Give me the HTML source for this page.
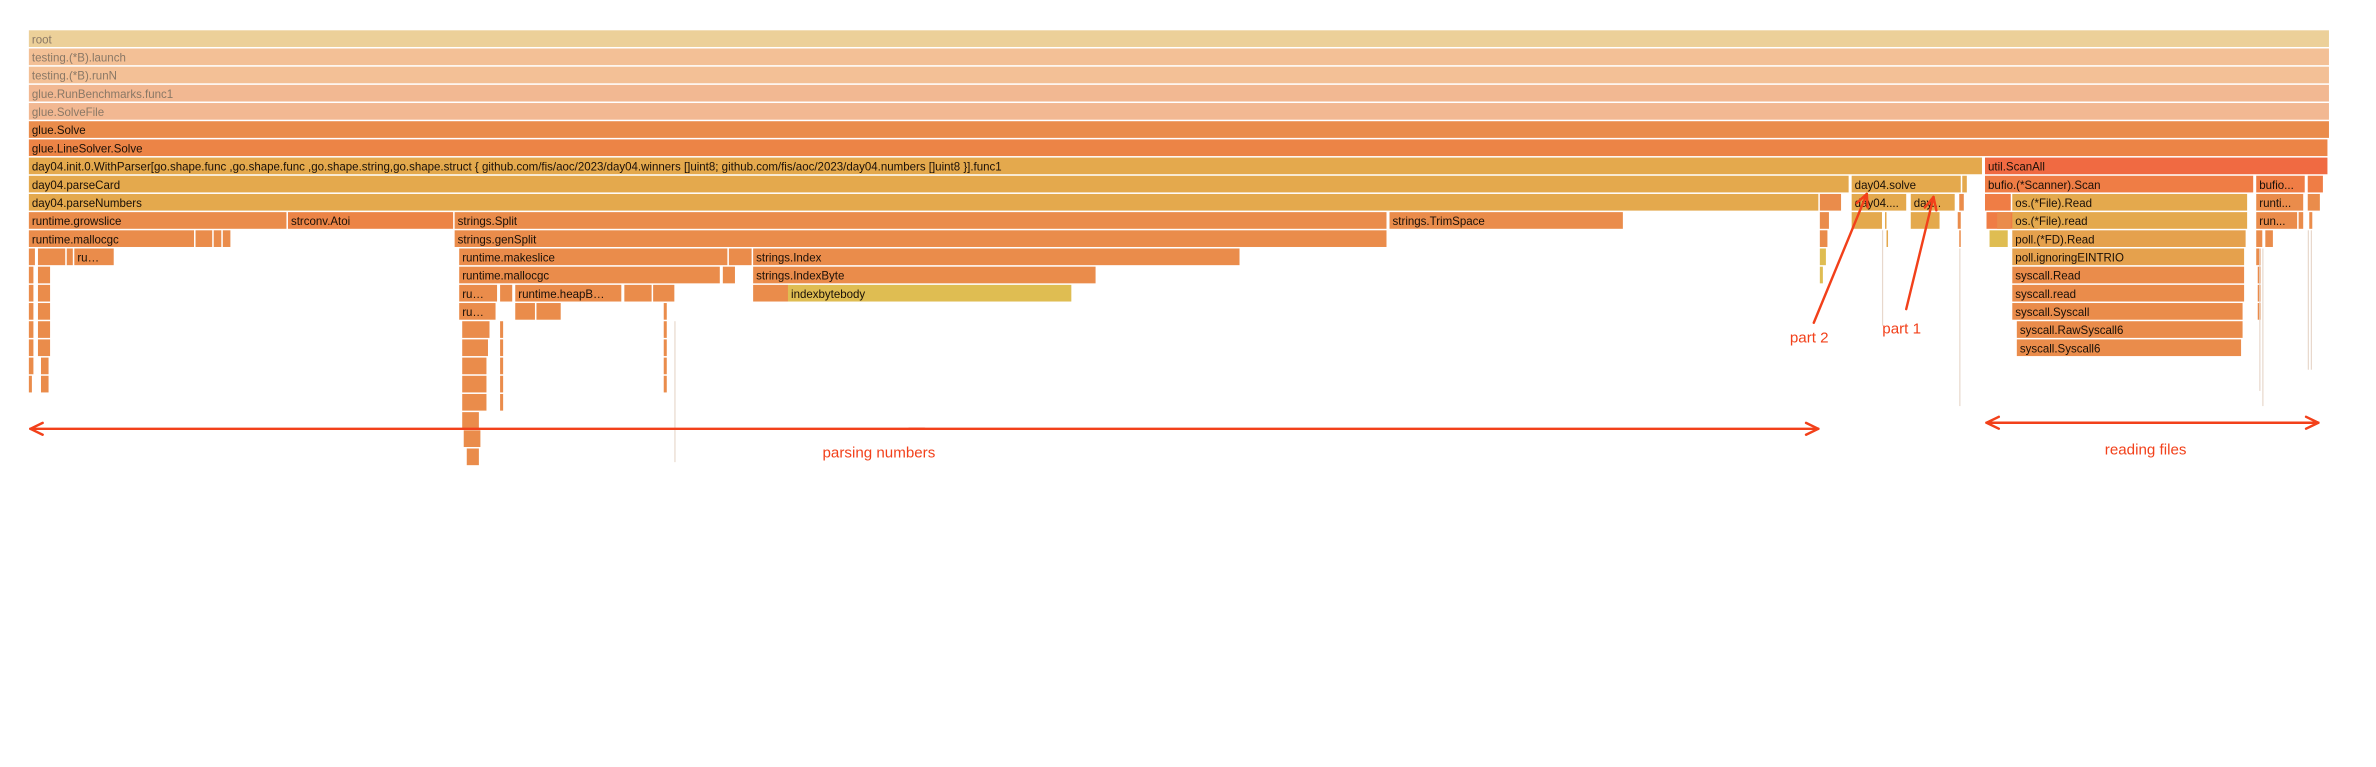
<!DOCTYPE html>
<html><head><meta charset="utf-8">
<style>
html,body{margin:0;padding:0;background:#fff;}
svg{display:block;}
text{font-family:"Liberation Sans",sans-serif;}
</style></head>
<body>
<svg id="chart" width="2376" height="767" viewBox="0 0 1568 506.2" xmlns="http://www.w3.org/2000/svg">
<g id="frames"></g>
<g id="annot"></g>
</svg>
<script>
// flame graph data: depth, start sample, end sample, label, color key
const frameDepths = [0,1,2,3,4,5,6,7,7,8,8,8,8,8,8,9,9,9,9,9,9,9,9,9,
10,10,10,10,10,10,10,10,10,10,10,10,10,10,10,
11,11,11,11,11,11,11,11,11,11,11,11,
12,12,12,12,12,12,12,12,12,12,
13,13,13,13,13,13,13,13,
14,14,14,14,14,14,14,14,14,14,14,
15,15,15,15,15,15,15,15,
16,16,16,16,16,16,
17,17,17,17,17,17,
18,18,18,18,18,
19,19,19,19,19,
20,20,21,22,23];
const frameStarts = [0,0,0,0,0,0,0,0,1291,0,1203,1276,1291,1470,1504,0,1182,1203,1242,1274,1291,1309,1470,1504,
0,171,281,898,1182,1203,1225,1242,1273,1292,1299,1309,1470,1498,1505,
0,110,122,128,281,1182,1226,1274,1294,1309,1470,1476,
0,6,25,30,284,462,478,1182,1309,1470,
0,6,284,458,478,1309,1471,1182,
0,6,284,311,321,393,412,478,501,1309,1471,
0,6,284,321,335,419,1309,1471,
0,6,286,311,419,1312,
0,6,286,311,419,1312,
0,8,286,311,419,
0,8,286,311,419,
286,311,286,287,289];
const frameEnds = [1518,1518,1518,1518,1518,1518,1517,1289,1517,1201,1275,1279,1468,1502,1514,1181,1196,1239,1271,1277,1308,1464,1501,1512,
170,280,896,1052,1188,1223,1226,1261,1275,1326,1308,1464,1497,1501,1507,
109,121,127,133,896,1187,1227,1275,1306,1463,1474,1481,
4,24,29,56,461,477,799,1186,1462,1473,
3,14,456,466,704,1462,1473,1184,
3,14,309,319,391,411,426,501,688,1462,1473,
3,14,308,334,351,421,1461,1473,
3,14,304,313,421,1461,
3,14,303,313,421,1460,
3,13,302,313,421,
2,13,302,313,421,
302,313,297,298,297];
const frameNames = ["root","testing.(*B).launch","testing.(*B).runN","glue.RunBenchmarks.func1","glue.SolveFile","glue.Solve","glue.LineSolver.Solve",
"day04.init.0.WithParser[go.shape.func ,go.shape.func ,go.shape.string,go.shape.struct { github.com/fis/aoc/2023/day04.winners []uint8; github.com/fis/aoc/2023/day04.numbers []uint8 }].func1","util.ScanAll",
"day04.parseCard","day04.solve","","bufio.(*Scanner).Scan","bufio...","",
"day04.parseNumbers","","day04....","day...","","","os.(*File).Read","runti...","",
"runtime.growslice","strconv.Atoi","strings.Split","strings.TrimSpace","","","","","","","","os.(*File).read","run...","","",
"runtime.mallocgc","","","","strings.genSplit","","","","","poll.(*FD).Read","","",
"","","","ru…","runtime.makeslice","","strings.Index","","poll.ignoringEINTRIO","",
"","","runtime.mallocgc","","strings.IndexByte","syscall.Read","","",
"","","ru…","","runtime.heapB…","","","","indexbytebody","syscall.read","",
"","","ru…","","","","syscall.Syscall","",
"","","","","","syscall.RawSyscall6",
"","","","","","syscall.Syscall6",
"","","","","",
"","","","","",
"","","","",""];
const frameColors = ["r","t","t","g","g","o","O","y","s","y","y","y","b","b","b","y","o","y","y","o","b","y","o","o",
"o","O","o","o","o","y","y","y","o","b","o","y","o","o","o",
"o","o","o","o","o","o","y","o","Y","p","o","o",
"o","o","o","o","o","o","o","Y","p","o",
"o","o","o","o","o","o","o","Y",
"o","o","o","o","o","o","o","o","Y","o","o",
"o","o","o","o","o","o","o","o",
"o","o","o","o","o","o",
"o","o","o","o","o","o",
"o","o","o","o","o",
"o","o","o","o","o",
"o","o","o","o","o"];
const palette = {r:"#ecd099",t:"#f3c096",g:"#f2b892",o:"#ea8c4b",O:"#ec8446",y:"#e4a94d",Y:"#dfbd52",s:"#f06a42",b:"#ef7d45",p:"#e5a14d"};

const X0 = 19, PX = 1518/1518, Y0 = 20, ROW = 12;
function xScale(s){ return X0 + s*PX; }
function yScale(d){ return Y0 + d*ROW; }

const NS = "http://www.w3.org/2000/svg";
const g = document.getElementById('frames');
for (let i = 0; i < frameDepths.length; i++) {
  const x = xScale(frameStarts[i]), w = Math.max(0.8, xScale(frameEnds[i]) - x), y = yScale(frameDepths[i]);
  const r = document.createElementNS(NS, 'rect');
  r.setAttribute('x', x); r.setAttribute('y', y);
  r.setAttribute('width', w); r.setAttribute('height', 11);
  r.setAttribute('fill', palette[frameColors[i]]);
  
  
  g.appendChild(r);
  if (frameNames[i] && w > 14) {
    const t = document.createElementNS(NS, 'text');
    t.setAttribute('x', x + 2); t.setAttribute('y', y + 8.6);
    t.setAttribute('font-size', '7.6');
    t.setAttribute('fill', frameDepths[i] <= 4 ? '#8a7866' : '#1a1008');
    t.textContent = frameNames[i];
    
    
    g.appendChild(t);
  }
}
// faint vertical stalks
const stalkX = [1293, 1491, 1493, 1523, 1525, 445, 1242];
const stalkY1 = [164, 164, 164, 152, 152, 212, 152];
const stalkY2 = [268, 258, 268, 244, 244, 305, 215];
for (let i = 0; i < stalkX.length; i++) {
  const l = document.createElementNS(NS, 'rect');
  l.setAttribute('x', stalkX[i]); l.setAttribute('y', stalkY1[i]);
  l.setAttribute('width', 0.8); l.setAttribute('height', stalkY2[i] - stalkY1[i]);
  l.setAttribute('fill', '#e8d8cc');
  
  
  g.appendChild(l);
}

const a = document.getElementById('annot');
const RED = "#f2401a";
function line(x1,y1,x2,y2,name){
  const l = document.createElementNS(NS,'line');
  l.setAttribute('x1',x1);l.setAttribute('y1',y1);l.setAttribute('x2',x2);l.setAttribute('y2',y2);
  l.setAttribute('stroke',RED);l.setAttribute('stroke-width','1.6');l.setAttribute('stroke-linecap','round');
  
  
  a.appendChild(l);
}
function arrow(x1,y1,x2,y2,name){
  line(x1,y1,x2,y2,name);
  const ang = Math.atan2(y2-y1,x2-x1), L = 9;
  [0.45,-0.45].forEach(d=>line(x2,y2,x2-L*Math.cos(ang+d),y2-L*Math.sin(ang+d),name+'-head'));
}
function label(x,y,txt,name){
  const t = document.createElementNS(NS,'text');
  t.setAttribute('x',x);t.setAttribute('y',y);t.setAttribute('font-size','10');
  t.setAttribute('fill',RED);t.setAttribute('text-anchor','middle');
  t.textContent = txt;
  
  
  a.appendChild(t);
}
arrow(610,283,20,283,'parsing-arrow-left'); arrow(600,283,1200,283,'parsing-arrow-right');
label(580,302,'parsing numbers','parsing-numbers-label');
arrow(1420,279,1311,279,'reading-arrow-left'); arrow(1410,279,1530,279,'reading-arrow-right');
label(1416,300,'reading files','reading-files-label');
arrow(1197,213,1232,128,'part2-arrow'); label(1194,226,'part 2','part2-label');
arrow(1258,204,1276,130,'part1-arrow'); label(1255,220,'part 1','part1-label');
</script>
</body></html>
